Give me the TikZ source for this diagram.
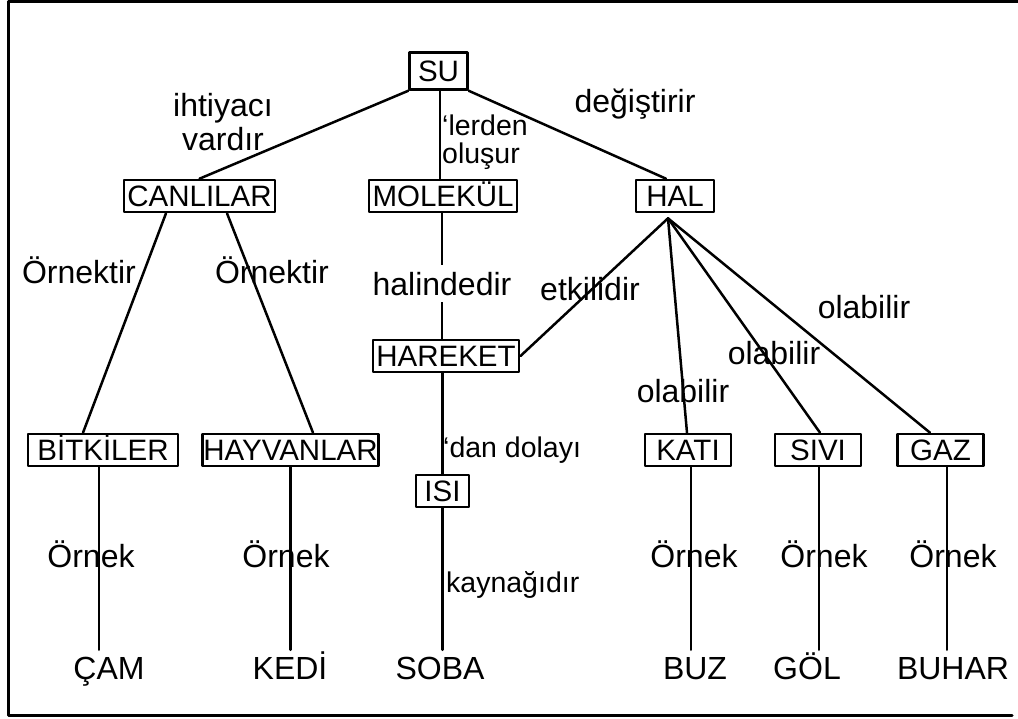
\documentclass[tikz,border=0pt]{standalone}
\usepackage{fontspec}
\setmainfont{Liberation Sans}
\usetikzlibrary{positioning}
\tikzset{
  every picture/.style={line join=round, line cap=round},
  concept/.style={draw, line width=2.6pt, font=\fontsize{29.5}{34}\selectfont, inner xsep=3.5pt, inner ysep=5.5pt, text height=21pt, text depth=0pt},
  link/.style={line width=2.5pt},
  rel/.style={font=\fontsize{32}{34}\selectfont, inner sep=0pt, anchor=base, align=center},
  relsmall/.style={font=\fontsize{28.5}{28}\selectfont, inner sep=0pt, anchor=base west, align=left},
  leaf/.style={font=\fontsize{32}{34}\selectfont, inner xsep=0pt, inner ysep=6pt, text height=23pt, text depth=0pt, anchor=base},
}

\begin{document}
\begin{tikzpicture}[x=1pt,y=-1pt]
\useasboundingbox (0,0) rectangle (1018,718);
\draw[line width=3pt] (1018,1.5) -- (8.5,1.5) -- (8.5,715.5) -- (1012,715.5);
% concepts
\node[concept, inner xsep=8.5pt, inner ysep=8pt] (su) at (438.5,71) {SU};
\node[concept] (canlilar) at (199.5,196) {CANLILAR};
\node[concept] (molekul) at (443,196) {MOLEKÜL};
\node[concept, minimum width=78pt] (hal) at (675,196) {HAL};
\node[concept] (hareket) at (446,356) {HAREKET};
\node[concept, minimum width=150pt] (bitkiler) at (103,450) {BİTKİLER};
\node[concept, inner xsep=1pt] (hayvanlar) at (290.5,450) {HAYVANLAR};
\node[concept, minimum width=53pt] (isi) at (442.5,491) {ISI};
\node[concept, minimum width=86pt] (kati) at (688,450) {KATI};
\node[concept, minimum width=86pt] (sivi) at (818,450) {SIVI};
\node[concept, minimum width=86pt] (gaz) at (940.5,450) {GAZ};
% examples
\node[leaf] (cam) at (109,679) {ÇAM};
\node[leaf] (kedi) at (290,679) {KEDİ};
\node[leaf] (soba) at (440,679) {SOBA};
\node[leaf] (buz) at (695,679) {BUZ};
\node[leaf] (gol) at (807,679) {GÖL};
\node[leaf] (buhar) at (953,679) {BUHAR};
\coordinate (halfoot) at ([xshift=-7pt,yshift=-5pt]hal.south);
% links
\draw[link] (su.south west) -- (canlilar.north);
\draw[link] ([xshift=1.5pt]su.south) -- ([xshift=1.5pt]su.south |- molekul.north);
\draw[link] (su.south east) -- ([xshift=-9pt]hal.north);
\draw[link] ([xshift=-33.5pt]canlilar.south) -- ([xshift=-20pt]bitkiler.north);
\draw[link] ([xshift=27.5pt]canlilar.south) -- ([xshift=22.5pt]hayvanlar.north);
\draw[link] ([xshift=-1pt]molekul.south) -- ([xshift=-1pt]molekul.south |- hareket.north);
\draw[link] (isi.north |- hareket.south) -- (isi.north);
\draw[link] (isi.south) -- (isi.south |- soba.north);
\draw[link] (halfoot) -- (hareket.east);
\draw[link] (halfoot) -- ([xshift=-1pt]kati.north);
\draw[link] (halfoot) -- ([xshift=2pt]sivi.north);
\draw[link] (halfoot) -- ([xshift=-10.5pt]gaz.north);
\draw[link] ([xshift=-4pt]bitkiler.south) -- ([xshift=-4pt]bitkiler.south |- cam.north);
\draw[link] (hayvanlar.south) -- (hayvanlar.south |- kedi.north);
\draw[link] ([xshift=3pt]kati.south) -- ([xshift=3pt]kati.south |- buz.north);
\draw[link] ([xshift=1pt]sivi.south) -- ([xshift=1pt]sivi.south |- gol.north);
\draw[link] ([xshift=6.5pt]gaz.south) -- ([xshift=6.5pt]gaz.south |- buhar.north);
% labels
\node[rel] (ihtiyaci) at (223,150) {ihtiyacı\\vardır};
\node[relsmall] (lerden) at (442,163) {‘lerden\\oluşur};
\node[rel] (degistirir) at (635,112) {değiştirir};
\node[rel] (ornektir1) at (79,283) {Örnektir};
\node[rel] (ornektir2) at (272,283) {Örnektir};
\node[rel, fill=white, inner ysep=7pt, inner xsep=1pt] (halindedir) at (442,295) {halindedir};
\node[rel] (etkilidir) at (590,300) {etkilidir};
\node[rel] (olabilir3) at (864,318) {olabilir};
\node[rel] (olabilir2) at (774,364) {olabilir};
\node[rel] (olabilir1) at (683,402) {olabilir};
\node[relsmall] (dandolayi) at (443,457) {‘dan dolayı};
\node[relsmall] (kaynagidir) at (446,592) {kaynağıdır};
\node[rel] (ornek1) at (91,567) {Örnek};
\node[rel] (ornek2) at (286,567) {Örnek};
\node[rel] (ornek3) at (694,567) {Örnek};
\node[rel] (ornek4) at (824,567) {Örnek};
\node[rel] (ornek5) at (953,567) {Örnek};
\end{tikzpicture}
\end{document}
